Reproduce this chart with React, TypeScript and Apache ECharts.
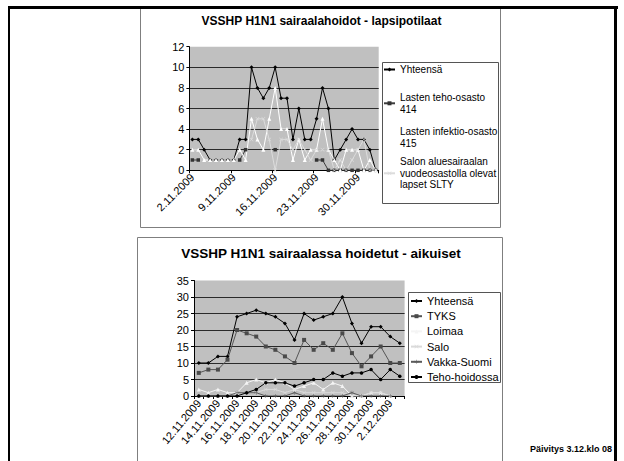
import React, { useEffect, useRef } from "react";
import * as echarts from "echarts";

const FONT = 'Arial, "Liberation Sans", sans-serif';

// ---- Chart 1: children ----
const kidDates = [
  "2.11.2009", "3.11.2009", "4.11.2009", "5.11.2009", "6.11.2009", "7.11.2009", "8.11.2009",
  "9.11.2009", "10.11.2009", "11.11.2009", "12.11.2009", "13.11.2009", "14.11.2009", "15.11.2009",
  "16.11.2009", "17.11.2009", "18.11.2009", "19.11.2009", "20.11.2009", "21.11.2009", "22.11.2009",
  "23.11.2009", "24.11.2009", "25.11.2009", "26.11.2009", "27.11.2009", "28.11.2009", "29.11.2009",
  "30.11.2009", "1.12.2009", "2.12.2009", "3.12.2009",
];
const kidTotal = [3, 3, 2, 1, 1, 1, 1, 1, 3, 3, 10, 8, 7, 8, 10, 7, 7, 3, 6, 3, 3, 5, 8, 6, 1, 2, 3, 4, 3, 3, 2, 0];
const kidTeho414 = [1, 1, null, null, null, null, null, null, 1, 2, null, null, null, null, 2, null, null, null, null, null, null, 1, 1, 0, 0, 0, 0, 0, 0, 0, 0, 0];
const kidInfektio415 = [2, 2, 1, 1, 1, 1, 1, 1, 2, 1, 5, 3, 2, 5, 8, 4, 4, 1, 3, 1, 2, 2, 5, 2, 1, 0, 2, 2, 2, 0, 1, 0];
const kidSlty = [null, null, null, null, null, null, null, null, null, null, 3, 5, 5, 3, 0, 3, 3, 2, 3, 2, 1, 2, 2, 2, 0, 1, 0, 1, 2, 3, 0, 0];
const kidYTicks = { min: 0, max: 12, interval: 2 };

// ---- Chart 2: adults ----
const adultDates = [
  "12.11.2009", "13.11.2009", "14.11.2009", "15.11.2009", "16.11.2009", "17.11.2009", "18.11.2009",
  "19.11.2009", "20.11.2009", "21.11.2009", "22.11.2009", "23.11.2009", "24.11.2009", "25.11.2009",
  "26.11.2009", "27.11.2009", "28.11.2009", "29.11.2009", "30.11.2009", "1.12.2009", "2.12.2009", "3.12.2009",
];
const adultTotal = [10, 10, 12, 12, 24, 25, 26, 25, 24, 22, 17, 25, 23, 24, 25, 30, 22, 16, 21, 21, 18, 16];
const adultTyks = [7, 8, 8, 11, 20, 19, 18, 15, 14, 12, 10, 17, 14, 16, 14, 19, 13, 9, 12, 15, 10, 10];
const adultLoimaa = [2, 1, 2, 1, 1, 4, 5, 4, 5, 4, 2, 3, 4, 2, 4, 3, 0, 0, 1, 1, 0, null];
const adultSalo = [0, 0, 0, 0, 1, 1, 1, 2, 2, 1, 2, 1, 1, 1, 1, 1, 0, 0, 1, 1, 0, null];
const adultVakka = [0, 0, 0, 0, 1, 1, 1, 0, 0, 0, 1, 0, 0, 0, 0, 0, 1, 0, 0, 0, 0, null];
const adultTeho = [0, 0, 0, 0, 0, 1, 2, 4, 4, 4, 3, 4, 5, 5, 7, 6, 7, 7, 8, 5, 8, 6];
const adultYTicks = { min: 0, max: 35, interval: 5 };

const X_SYMBOL = "path://M0,1L1,0L5,4L9,0L10,1L6,5L10,9L9,10L5,6L1,10L0,9L4,5Z";
const STAR_SYMBOL = "path://M4.4,0H5.6V4.2L9.2,2.1L9.8,3.1L6.2,5L9.8,6.9L9.2,7.9L5.6,5.8V10H4.4V5.8L0.8,7.9L0.2,6.9L3.8,5L0.2,3.1L0.8,2.1L4.4,4.2Z";

function lineSeries(name: string, data: any[], axis: number, color: string, symbol: string, size: number, mColor?: string) {
  return {
    type: "line",
    name,
    data,
    xAxisIndex: axis,
    yAxisIndex: axis,
    symbol,
    symbolSize: size,
    showSymbol: true,
    showAllSymbol: true,
    connectNulls: false,
    lineStyle: { color, width: 1 },
    itemStyle: { color: mColor || color, borderWidth: 0 },
    emphasis: { disabled: true },
  };
}

function xAxisCfg(idx: number, data: string[], tickInt: number, labelInt: number, rotate: number, margin: number) {
  return {
    type: "category",
    gridIndex: idx,
    data,
    boundaryGap: true,
    axisLine: { show: true, lineStyle: { color: "#000", width: 1 } },
    axisTick: { show: true, interval: tickInt, length: 3, lineStyle: { color: "#000" } },
    axisLabel: { interval: labelInt, rotate, fontSize: 11, margin, color: "#000", fontFamily: FONT },
    splitLine: { show: false },
  };
}

function yAxisCfg(idx: number, t: { min: number; max: number; interval: number }) {
  return {
    type: "value",
    gridIndex: idx,
    min: t.min,
    max: t.max,
    interval: t.interval,
    axisLine: { show: true, lineStyle: { color: "#000", width: 1 } },
    axisTick: { show: true, length: 3, lineStyle: { color: "#000" } },
    axisLabel: { fontSize: 11, margin: 5, color: "#000", fontFamily: FONT },
    splitLine: { show: true, showMaxLine: false, lineStyle: { color: "#2a2a2a", width: 1 } },
  };
}

function oneLegend(name: string, text: string, lines: number, firstLineY: number) {
  const lh = 11.5;
  const pad = (lines - 1) * lh;
  const blockH = lines * lh + pad;
  return {
    show: true,
    orient: "vertical",
    left: 383,
    top: firstLineY - blockH / 2,
    padding: 0,
    itemWidth: 11,
    itemHeight: 5,
    itemGap: 0,
    selectedMode: false,
    data: [name],
    formatter: () => text,
    textStyle: { fontSize: 10, lineHeight: lh, color: "#000", fontFamily: FONT, padding: [pad, 0, 0, 0] },
  };
}

export default function App() {
  const ref = useRef<HTMLDivElement>(null);
  useEffect(() => {
    if (!ref.current) return;
    const chart = echarts.init(ref.current, undefined, { renderer: "svg" });
    const option: any = {
      animation: false,
      backgroundColor: "#ffffff",
      textStyle: { fontFamily: FONT, color: "#000" },
      grid: [
        { left: 189.4, top: 46.7, width: 189.3, height: 123.6, show: true, backgroundColor: "#c0c0c0", borderWidth: 0, containLabel: false },
        { left: 194, top: 280.5, width: 210.6, height: 115.5, show: true, backgroundColor: "#c0c0c0", borderWidth: 0, containLabel: false },
      ],
      xAxis: [
        xAxisCfg(0, kidDates, 6, 6, 45, 5),
        xAxisCfg(1, adultDates, 0, 1, 50, 5),
      ],
      yAxis: [yAxisCfg(0, kidYTicks), yAxisCfg(1, adultYTicks)],
      legend: [
        oneLegend("Yhteensä", "Yhteensä", 1, 69.5),
        oneLegend("Lasten teho-osasto 414", "Lasten teho-osasto\n414", 2, 103.3),
        oneLegend("Lasten infektio-osasto 415", "Lasten infektio-osasto\n415", 2, 137.3),
        oneLegend(
          "Salon aluesairaalan vuodeosastolla olevat lapset SLTY",
          "Salon aluesairaalan\nvuodeosastolla olevat\nlapset SLTY",
          3,
          173.3
        ),
        {
          show: true,
          orient: "vertical",
          left: 410,
          top: 294.5,
          padding: 0,
          itemWidth: 11,
          itemHeight: 5,
          itemGap: 2.2,
          selectedMode: false,
          data: ["Yhteensä", "TYKS", "Loimaa", "Salo", "Vakka-Suomi", "Teho-hoidossa"],
          textStyle: { fontSize: 11, lineHeight: 13, color: "#000", fontFamily: FONT },
        },
      ],
      series: [
        lineSeries("Yhteensä", kidTotal, 0, "#000000", "diamond", 4),
        lineSeries("Lasten teho-osasto 414", kidTeho414, 0, "#3c3c3c", "rect", 3.5, "#333333"),
        lineSeries("Lasten infektio-osasto 415", kidInfektio415, 0, "#ffffff", "triangle", 4),
        lineSeries("Salon aluesairaalan vuodeosastolla olevat lapset SLTY", kidSlty, 0, "#dcdcdc", X_SYMBOL, 4),
        lineSeries("Yhteensä", adultTotal, 1, "#000000", "diamond", 4),
        lineSeries("TYKS", adultTyks, 1, "#555555", "rect", 4, "#4a4a4a"),
        lineSeries("Loimaa", adultLoimaa, 1, "#f4f4f4", "triangle", 4),
        lineSeries("Salo", adultSalo, 1, "#dadada", X_SYMBOL, 4),
        lineSeries("Vakka-Suomi", adultVakka, 1, "#5a5a5a", STAR_SYMBOL, 4),
        lineSeries("Teho-hoidossa", adultTeho, 1, "#000000", "circle", 3.5),
      ],
      graphic: [
        { type: "rect", z: -10, shape: { x: 140.5, y: 7.5, width: 360, height: 220 }, style: { fill: "none", stroke: "#7f7f7f", lineWidth: 1 } },
        { type: "rect", z: -10, shape: { x: 137.5, y: 237.5, width: 365, height: 240 }, style: { fill: "none", stroke: "#7f7f7f", lineWidth: 1 } },
        { type: "rect", shape: { x: 382.5, y: 62.5, width: 116, height: 141 }, style: { fill: "none", stroke: "#555", lineWidth: 1 } },
        { type: "rect", shape: { x: 408.5, y: 292.5, width: 92, height: 90 }, style: { fill: "none", stroke: "#555", lineWidth: 1 } },
        { type: "rect", shape: { x: 8, y: 6, width: 610, height: 3 }, style: { fill: "#000" } },
        { type: "rect", shape: { x: 8, y: 6, width: 2, height: 460 }, style: { fill: "#000" } },
        { type: "rect", shape: { x: 614, y: 6, width: 3, height: 460 }, style: { fill: "#000" } },
        {
          type: "text",
          x: 321.5,
          y: 20.5,
          style: { text: "VSSHP H1N1 sairaalahoidot - lapsipotilaat", fontSize: 12, fontWeight: "bold", fontFamily: FONT, fill: "#000", align: "center", verticalAlign: "middle" },
        },
        {
          type: "text",
          x: 321,
          y: 253.5,
          style: { text: "VSSHP H1N1 sairaalassa hoidetut - aikuiset", fontSize: 13.5, fontWeight: "bold", fontFamily: FONT, fill: "#000", align: "center", verticalAlign: "middle" },
        },
        {
          type: "text",
          x: 612,
          y: 449,
          style: { text: "Päivitys 3.12.klo 08", fontSize: 9, fontWeight: "bold", fontFamily: FONT, fill: "#000", align: "right", verticalAlign: "middle" },
        },
      ],
    };
    chart.setOption(option);
    return () => chart.dispose();
  }, []);
  return <div ref={ref} style={{ position: "absolute", left: 0, top: 0, width: 624, height: 461 }} />;
}
